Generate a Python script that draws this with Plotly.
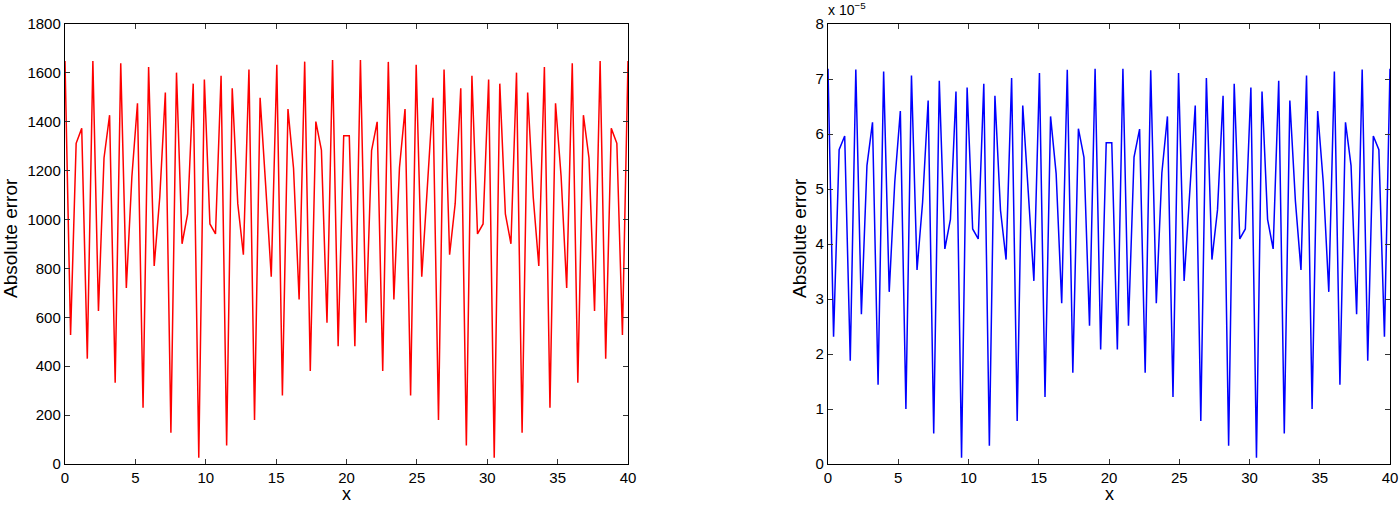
import numpy as np
import plotly.graph_objects as go

# sampling grid: 102 equally spaced points on [0, 40]
x_vals = np.linspace(0, 40, 102)

red_err = [1649, 528, 1312, 1373, 431, 1649, 626, 1252, 1427, 332,
           1639, 720, 1176, 1476, 230, 1624, 810, 1091, 1520, 128,
           1601, 901, 1023, 1556, 26, 1573, 982, 941, 1588, 76,
           1537, 1064, 856, 1614, 180, 1498, 1140, 766, 1633, 280,
           1452, 1210, 673, 1646, 381, 1401, 1284, 578, 1653, 482,
           1343, 1343, 482, 1653, 578, 1282, 1400, 381, 1645, 673,
           1212, 1452, 280, 1633, 766, 1140, 1498, 180, 1614, 856,
           1066, 1537, 76, 1588, 941, 982, 1573, 26, 1556, 1023,
           901, 1601, 128, 1520, 1091, 810, 1624, 230, 1476, 1176,
           720, 1639, 332, 1427, 1252, 626, 1649, 431, 1373, 1312,
           528, 1649]

blue_err = [7.185, 2.312, 5.714, 5.962, 1.877, 7.173, 2.724, 5.424, 6.211, 1.441,
            7.137, 3.130, 5.127, 6.416, 0.999, 7.064, 3.529, 4.76, 6.610, 0.557,
            6.967, 3.910, 4.449, 6.774, 0.115, 6.846, 4.274, 4.092, 6.913, 0.333,
            6.695, 4.613, 3.717, 7.016, 0.781, 6.519, 4.93, 3.329, 7.107, 1.217,
            6.320, 5.28, 2.924, 7.167, 1.659, 6.096, 5.575, 2.512, 7.185, 2.082,
            5.841, 5.841, 2.082, 7.185, 2.512, 5.58, 6.09, 1.659, 7.160, 2.924,
            5.29, 6.320, 1.217, 7.107, 3.329, 4.92, 6.519, 0.781, 7.016, 3.717,
            4.62, 6.695, 0.333, 6.913, 4.092, 4.274, 6.846, 0.115, 6.774, 4.449,
            3.910, 6.967, 0.557, 6.610, 4.78, 3.529, 7.064, 0.999, 6.416, 5.127,
            3.130, 7.137, 1.441, 6.211, 5.424, 2.724, 7.173, 1.877, 5.962, 5.714,
            2.312, 7.185]

blue_scaled = [v * 1e-5 for v in blue_err]

x_ticks = [0, 5, 10, 15, 20, 25, 30, 35, 40]
left_yticks = [0, 200, 400, 600, 800, 1000, 1200, 1400, 1600, 1800]
right_yticks = [0, 1, 2, 3, 4, 5, 6, 7, 8]

W, H = 1400, 505
FONT = "Liberation Sans, Arial, Helvetica, sans-serif"

fig = go.Figure()
fig.add_trace(go.Scatter(x=x_vals, y=red_err, mode="lines",
                         line=dict(color="#ff0000", width=1.5),
                         xaxis="x", yaxis="y", showlegend=False))
fig.add_trace(go.Scatter(x=x_vals, y=blue_scaled, mode="lines",
                         line=dict(color="#0000ff", width=1.5),
                         xaxis="x2", yaxis="y2", showlegend=False))

ydom = [(H - 464) / H, (H - 24) / H]

axis_common = dict(showline=True, linecolor="black", linewidth=1.2, mirror="ticks",
                   ticks="inside", ticklen=5, tickcolor="#333333", tickwidth=1,
                   showgrid=False, zeroline=False, automargin=False,
                   tickfont=dict(family=FONT, size=15, color="black"))

def ann(text, x, y, size, angle=0, xanchor="center", yanchor="middle"):
    return dict(text=text, xref="paper", yref="paper", x=x / W, y=(H - y) / H,
                xanchor=xanchor, yanchor=yanchor, showarrow=False, textangle=angle,
                font=dict(family=FONT, size=size, color="black"))

fig.update_layout(
    width=W, height=H,
    margin=dict(l=0, r=0, t=0, b=0, autoexpand=False),
    paper_bgcolor="white", plot_bgcolor="white",
    font=dict(family=FONT, color="black"),
    xaxis=dict(domain=[65 / W, 628 / W], range=[0, 40], tickvals=x_ticks,
               anchor="y", **axis_common),
    yaxis=dict(domain=ydom, range=[0, 1800], tickvals=left_yticks,
               anchor="x", **axis_common),
    xaxis2=dict(domain=[828 / W, 1390 / W], range=[0, 40], tickvals=x_ticks,
                anchor="y2", **axis_common),
    yaxis2=dict(domain=ydom, range=[0, 8e-5],
                tickvals=[v * 1e-5 for v in right_yticks],
                ticktext=[str(v) for v in right_yticks],
                anchor="x2", **axis_common),
    annotations=[
        ann("Absolute error", 10, 238, 19, angle=-90),
        ann("Absolute error", 799, 238, 19, angle=-90),
        ann("x", 346, 494, 18),
        ann("x", 1109, 494, 18),
        ann("x 10<sup>\u22125</sup>", 826, 20, 14, xanchor="left", yanchor="bottom"),
    ],
)

fig.write_html("out.html",
               config={"displayModeBar": False, "staticPlot": True},
               post_script="document.body.style.margin='0px';"
                           "document.body.style.overflow='hidden';")
